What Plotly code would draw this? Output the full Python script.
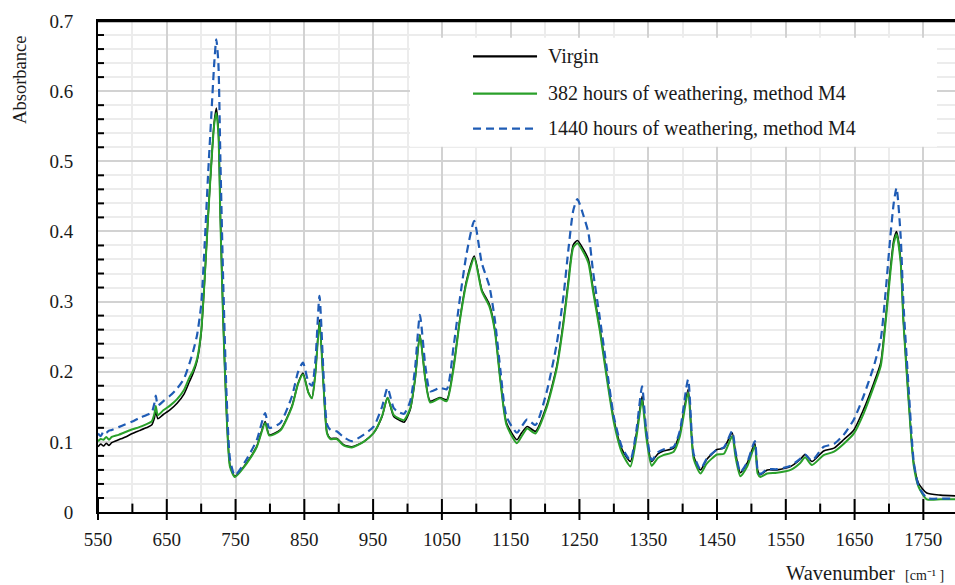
import plotly.graph_objects as go

# ---- data ----
wavenumber = [550, 554, 558, 562, 566, 570, 580, 590, 600, 610, 620, 628, 632, 634, 637, 645, 655, 665, 675, 683,
              688, 694, 700, 705, 710, 715, 719, 722, 725, 728, 732, 737, 742, 749, 766, 781, 793, 799, 815, 832,
              841, 848, 856, 861, 866, 872, 878, 883, 888, 897, 907, 919, 936, 951, 963, 971, 980, 988, 995, 1004,
              1011, 1018, 1026, 1033, 1047, 1057, 1067, 1076, 1086, 1097, 1108, 1119, 1127, 1135, 1144, 1159, 1166, 1174, 1186, 1202,
              1217, 1227, 1234, 1241, 1247, 1256, 1263, 1270, 1280, 1290, 1300, 1312, 1324, 1333, 1341, 1347, 1355, 1364, 1372, 1387,
              1396, 1408, 1416, 1426, 1435, 1450, 1460, 1472, 1477, 1484, 1494, 1505, 1509, 1513, 1523, 1537, 1557, 1571, 1578, 1588,
              1605, 1620, 1634, 1649, 1663, 1678, 1688, 1695, 1702, 1707, 1711, 1717, 1721, 1729, 1736, 1743, 1755, 1775, 1796]

virgin = [.093, .097, .094, .098, .095, .099, .103, .107, .112, .116, .120, .124, .134, .144, .133, .139, .146, .155, .168, .186,
          .197, .215, .255, .330, .420, .500, .556, .576, .545, .420, .275, .140, .066, .051, .070, .094, .129, .110, .117, .151,
          .184, .198, .170, .163, .198, .274, .179, .113, .105, .105, .096, .093, .100, .113, .136, .163, .136, .131, .128, .146,
          .189, .253, .189, .158, .163, .160, .208, .274, .331, .365, .317, .296, .260, .189, .127, .103, .113, .122, .115, .151,
          .208, .274, .331, .381, .387, .374, .360, .317, .260, .193, .132, .089, .072, .113, .165, .113, .072, .083, .087, .091,
          .113, .175, .080, .060, .075, .089, .091, .113, .084, .056, .070, .098, .060, .053, .060, .060, .065, .075, .082, .072,
          .087, .091, .103, .117, .146, .184, .213, .274, .346, .388, .400, .360, .274, .155, .070, .041, .027, .024, .023]

weathered_382 = [.101, .104, .103, .107, .103, .107, .110, .114, .118, .121, .125, .129, .140, .151, .138, .145, .152, .161, .174, .192,
                 .201, .218, .257, .332, .420, .500, .553, .569, .540, .415, .272, .138, .064, .050, .069, .093, .127, .109, .116, .150,
                 .183, .196, .170, .162, .197, .270, .178, .112, .104, .104, .095, .092, .100, .113, .137, .163, .138, .133, .131, .148,
                 .190, .252, .188, .156, .162, .158, .205, .272, .328, .362, .315, .293, .258, .187, .124, .098, .108, .119, .112, .148,
                 .205, .270, .327, .377, .383, .370, .355, .313, .256, .189, .128, .084, .065, .108, .160, .108, .066, .077, .081, .086,
                 .108, .170, .076, .055, .069, .082, .083, .108, .078, .051, .065, .094, .055, .050, .055, .056, .060, .070, .078, .067,
                 .081, .086, .097, .112, .140, .179, .208, .269, .341, .383, .396, .356, .271, .152, .066, .036, .018, .018, .018]

weathered_1440 = [.112, .108, .115, .113, .116, .117, .121, .125, .129, .134, .138, .142, .155, .166, .152, .158, .166, .176, .190, .212,
                  .228, .252, .295, .380, .480, .570, .640, .674, .640, .500, .330, .165, .075, .052, .075, .103, .141, .120, .127, .165,
                  .200, .213, .185, .180, .215, .308, .195, .125, .117, .115, .107, .101, .110, .122, .150, .177, .148, .142, .140, .158,
                  .205, .281, .208, .172, .177, .175, .236, .303, .369, .415, .355, .322, .274, .203, .136, .113, .122, .132, .124, .170,
                  .240, .310, .375, .430, .446, .422, .398, .341, .274, .203, .136, .092, .074, .118, .179, .118, .074, .085, .089, .093,
                  .116, .189, .083, .061, .076, .089, .092, .115, .086, .057, .071, .101, .061, .054, .061, .061, .066, .076, .082, .073,
                  .093, .097, .110, .132, .165, .208, .246, .312, .393, .441, .462, .393, .298, .170, .072, .037, .020, .019, .019]

series_names = ["Virgin", "382 hours of weathering, method M4", "1440 hours of weathering, method M4"]
series_values = [virgin, weathered_382, weathered_1440]
series_colors = ["#000000", "#2aa02a", "#1f5cb5"]
series_widths = [1.6, 2.0, 2.2]
series_dash = ["solid", "solid", "8px,5px"]

x_ticks = [550, 650, 750, 850, 950, 1050, 1150, 1250, 1350, 1450, 1550, 1650, 1750]
x_minor_ticks = [600, 700, 800, 900, 1000, 1100, 1200, 1300, 1400, 1500, 1600, 1700]
y_ticks = [0, 0.1, 0.2, 0.3, 0.4, 0.5, 0.6, 0.7]
y_tick_text = ["0", "0.1", "0.2", "0.3", "0.4", "0.5", "0.6", "0.7"]
y_minor_ticks = [0.02, 0.04, 0.06, 0.08, 0.12, 0.14, 0.16, 0.18, 0.22, 0.24, 0.26, 0.28,
                 0.32, 0.34, 0.36, 0.38, 0.42, 0.44, 0.46, 0.48, 0.52, 0.54, 0.56, 0.58,
                 0.62, 0.64, 0.66, 0.68]

FONT = "Liberation Serif"
XR = [550, 1796]
YR = [0, 0.7]
PLOT_W = 857.0
PLOT_H = 491.0
PX_X = (XR[1] - XR[0]) / PLOT_W   # data units per pixel (x)
PX_Y = (YR[1] - YR[0]) / PLOT_H   # data units per pixel (y)

fig = go.Figure()
for name, vals, col, w, d in zip(series_names, series_values, series_colors, series_widths, series_dash):
    fig.add_trace(go.Scatter(x=wavenumber, y=vals, mode="lines", name=name,
                             line=dict(color=col, width=w, dash=d, shape="spline", smoothing=0.6),
                             showlegend=False))


def tick_marks(xs, ys, symbol, size):
    fig.add_trace(go.Scatter(x=xs, y=ys, mode="markers", cliponaxis=False, showlegend=False,
                             hoverinfo="skip",
                             marker=dict(symbol=symbol, size=size, color="black",
                                         line=dict(color="black", width=2))))


# crossing major ticks and inside minor ticks on both axes
tick_marks(x_ticks, [2.5 * PX_Y] * len(x_ticks), "line-ns", 15)
tick_marks(x_minor_ticks, [3.5 * PX_Y] * len(x_minor_ticks), "line-ns", 7)
tick_marks([XR[0] - 0.5 * PX_X] * len(y_ticks), y_ticks, "line-ew", 15)
tick_marks([XR[0] + 2.5 * PX_X] * len(y_minor_ticks), y_minor_ticks, "line-ew", 5)

fig.update_layout(
    width=955, height=585,
    margin=dict(l=98, r=0, t=21, b=73),
    paper_bgcolor="white", plot_bgcolor="white",
    font=dict(family=FONT, size=19, color="#1a1a1a"),
    xaxis=dict(range=XR, tickmode="array", tickvals=x_ticks, ticktext=[str(v) for v in x_ticks],
               ticks="",
               showline=True, linecolor="black", linewidth=2, mirror=True,
               showgrid=True, gridcolor="#d2d2d2", gridwidth=2, zeroline=False,
               ticklabelstandoff=9,
               minor=dict(tickmode="array", tickvals=x_minor_ticks,
                          showgrid=True, gridcolor="#ececec", gridwidth=2)),
    yaxis=dict(range=YR, tickmode="array", tickvals=y_ticks, ticktext=y_tick_text,
               ticks="",
               showline=True, linecolor="black", linewidth=2,
               showgrid=True, gridcolor="#d2d2d2", gridwidth=2, zeroline=False,
               ticklabelstandoff=19,
               minor=dict(tickmode="array", tickvals=y_minor_ticks,
                          showgrid=True, gridcolor="#ececec", gridwidth=2)),
)

# top frame line
fig.add_shape(type="line", xref="paper", yref="paper", x0=-1 / PLOT_W, x1=1, y0=1, y1=1,
              line=dict(color="black", width=2.5), layer="above")

# legend box (white panel) and entries
fig.add_shape(type="rect", xref="paper", yref="paper", x0=0.364, x1=0.979, y0=0.744, y1=0.966,
              fillcolor="white", line=dict(width=0), layer="above")
legend_y = [0.928, 0.852, 0.781]
for name, col, w, d, ly in zip(series_names, series_colors, series_widths, series_dash, legend_y):
    fig.add_shape(type="line", xref="paper", yref="paper", x0=0.4376, x1=0.5123, y0=ly, y1=ly,
                  line=dict(color=col, width=max(w, 2.2), dash=d), layer="above")
    fig.add_annotation(xref="paper", yref="paper", x=0.5228, y=ly, xanchor="left", yanchor="middle",
                       text=name, showarrow=False, font=dict(family=FONT, size=20, color="#1a1a1a"))

# axis titles
fig.add_annotation(xref="paper", yref="paper", x=-0.091, y=0.88, text="Absorbance", textangle=-90,
                   showarrow=False, xanchor="center", yanchor="middle",
                   font=dict(family=FONT, size=18.5, color="#1a1a1a"))
fig.add_annotation(xref="paper", yref="paper", x=0.99, y=-0.124, xanchor="right", yanchor="middle",
                   text="Wavenumber  <span style='font-size:14px'>[cm⁻¹ ]</span>",
                   showarrow=False, font=dict(family=FONT, size=20.5, color="#1a1a1a"))

fig.write_html("out.html")
